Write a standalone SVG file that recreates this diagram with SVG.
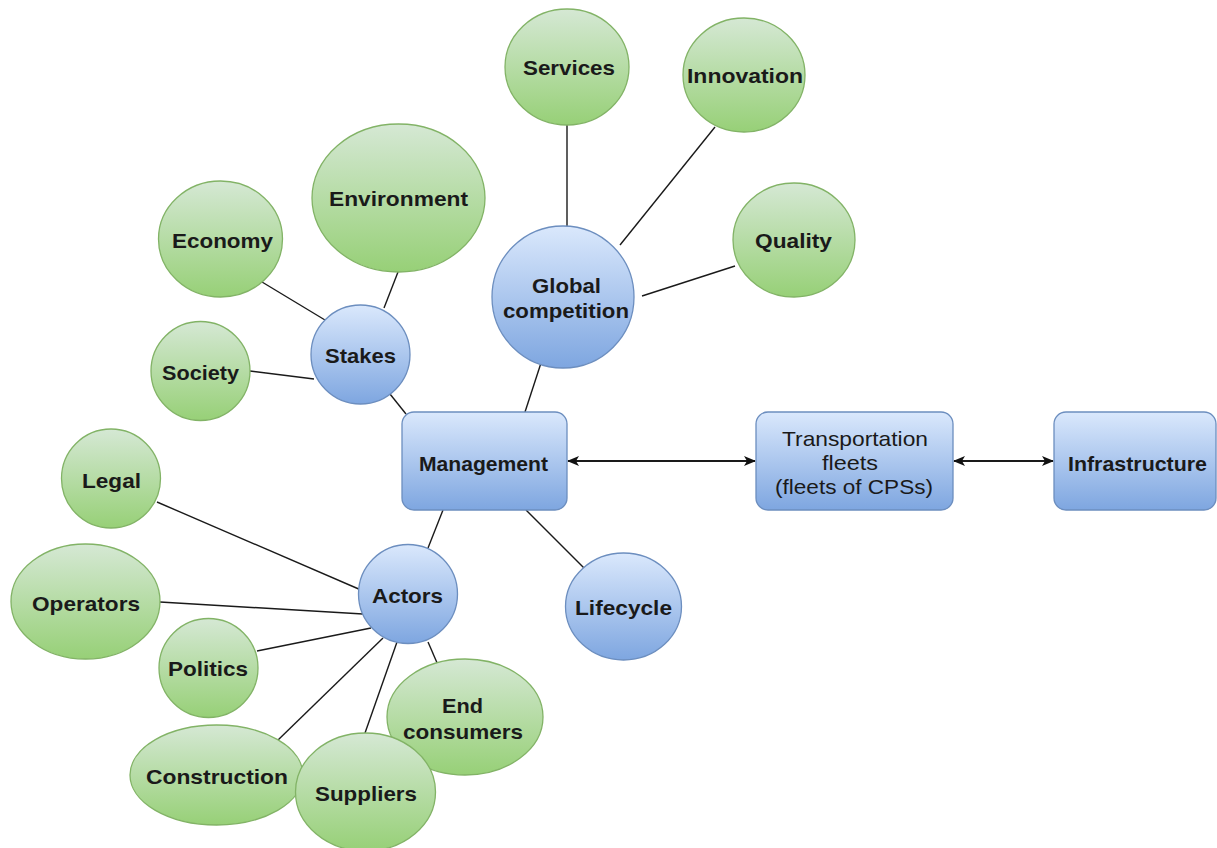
<svg xmlns="http://www.w3.org/2000/svg" width="1217" height="848" viewBox="0 0 1217 848">
<defs>
<linearGradient id="gG" x1="0" y1="0" x2="0" y2="1"><stop offset="0" stop-color="#d5e8d4"/><stop offset="1" stop-color="#97d077"/></linearGradient>
<linearGradient id="gB" x1="0" y1="0" x2="0" y2="1"><stop offset="0" stop-color="#dae8fc"/><stop offset="1" stop-color="#7ea6e0"/></linearGradient>
<marker id="arr" viewBox="0 0 12 10" refX="11" refY="5" markerWidth="12" markerHeight="10" markerUnits="userSpaceOnUse" orient="auto-start-reverse"><path d="M0,0 L12,5 L0,10 L3,5 Z" fill="#111"/></marker>
</defs>
<style>
.g{fill:url(#gG);stroke:#82b366;stroke-width:1.3}
.b{fill:url(#gB);stroke:#6c8ebf;stroke-width:1.3}
.t{font-family:"Liberation Sans",Arial,sans-serif;font-size:21px;font-weight:bold;fill:#1a1a1a;text-anchor:middle;dominant-baseline:central}
.r{font-family:"Liberation Sans",Arial,sans-serif;font-size:21px;fill:#1a1a1a;text-anchor:middle;dominant-baseline:central}
.c line{stroke:#1a1a1a;stroke-width:1.4;fill:none}
.c .a{stroke-width:2;marker-start:url(#arr);marker-end:url(#arr)}
</style>
<rect width="1217" height="848" fill="#ffffff"/>
<g class="c" id="connectors">
<line x1="567" y1="124" x2="567" y2="227"/>
<line x1="715" y1="127" x2="620" y2="245"/>
<line x1="735" y1="266" x2="642" y2="296"/>
<line x1="398" y1="272" x2="384" y2="308"/>
<line x1="262" y1="282" x2="325" y2="320"/>
<line x1="250" y1="371" x2="314" y2="379"/>
<line x1="390" y1="394" x2="406" y2="414"/>
<line x1="541" y1="363" x2="525" y2="412"/>
<line x1="443" y1="510" x2="428" y2="548"/>
<line x1="526" y1="510" x2="584" y2="568"/>
<line x1="157" y1="502" x2="361" y2="590"/>
<line x1="160" y1="602" x2="363" y2="614"/>
<line x1="257" y1="651" x2="371" y2="628"/>
<line x1="277" y1="741" x2="383" y2="638"/>
<line x1="365" y1="733" x2="397" y2="642"/>
<line x1="428" y1="642" x2="438" y2="665"/>
<line class="a" x1="568" y1="461" x2="755" y2="461"/>
<line class="a" x1="954" y1="461" x2="1053" y2="461"/>
</g>
<g id="services"><ellipse class="g" cx="567" cy="67" rx="62" ry="58"/><text class="t" x="569" y="67" textLength="92" lengthAdjust="spacingAndGlyphs">Services</text></g>
<g id="innovation"><ellipse class="g" cx="744" cy="75" rx="61" ry="57"/><text class="t" x="745" y="75" textLength="116" lengthAdjust="spacingAndGlyphs">Innovation</text></g>
<g id="environment"><ellipse class="g" cx="398.5" cy="198" rx="86.5" ry="74"/><text class="t" x="398.5" y="198" textLength="139" lengthAdjust="spacingAndGlyphs">Environment</text></g>
<g id="economy"><ellipse class="g" cx="220.5" cy="239" rx="62" ry="58"/><text class="t" x="222.5" y="240" textLength="101" lengthAdjust="spacingAndGlyphs">Economy</text></g>
<g id="quality"><ellipse class="g" cx="794" cy="240" rx="61" ry="57"/><text class="t" x="793.5" y="240" textLength="77" lengthAdjust="spacingAndGlyphs">Quality</text></g>
<g id="global-competition"><circle class="b" cx="563" cy="297" r="71"/><text class="t" x="566.5" y="285" textLength="69" lengthAdjust="spacingAndGlyphs">Global</text><text class="t" x="566" y="310" textLength="126" lengthAdjust="spacingAndGlyphs">competition</text></g>
<g id="stakes"><circle class="b" cx="360.5" cy="354.5" r="49.5"/><text class="t" x="360.5" y="355" textLength="71" lengthAdjust="spacingAndGlyphs">Stakes</text></g>
<g id="society"><circle class="g" cx="200.5" cy="371" r="49.5"/><text class="t" x="200.5" y="372" textLength="77" lengthAdjust="spacingAndGlyphs">Society</text></g>
<g id="management"><rect class="b" x="402" y="412" width="165" height="98" rx="12"/><text class="t" x="483.5" y="463" textLength="129" lengthAdjust="spacingAndGlyphs">Management</text></g>
<g id="transportation-fleets"><rect class="b" x="756" y="412" width="197" height="98" rx="12"/><text class="r" x="855" y="438" textLength="146" lengthAdjust="spacingAndGlyphs">Transportation</text><text class="r" x="850" y="462" textLength="56" lengthAdjust="spacingAndGlyphs">fleets</text><text class="r" x="854" y="486" textLength="158" lengthAdjust="spacingAndGlyphs">(fleets of CPSs)</text></g>
<g id="infrastructure"><rect class="b" x="1054" y="412" width="162" height="98" rx="12"/><text class="t" x="1137.5" y="463" textLength="139" lengthAdjust="spacingAndGlyphs">Infrastructure</text></g>
<g id="legal"><circle class="g" cx="111" cy="478.5" r="49.5"/><text class="t" x="111.5" y="480" textLength="59" lengthAdjust="spacingAndGlyphs">Legal</text></g>
<g id="actors"><circle class="b" cx="408" cy="594" r="49.5"/><text class="t" x="407.5" y="595" textLength="71" lengthAdjust="spacingAndGlyphs">Actors</text></g>
<g id="lifecycle"><ellipse class="b" cx="623.5" cy="606.5" rx="58" ry="53.5"/><text class="t" x="623.5" y="607" textLength="97" lengthAdjust="spacingAndGlyphs">Lifecycle</text></g>
<g id="operators"><ellipse class="g" cx="85.5" cy="601.5" rx="74.5" ry="57.5"/><text class="t" x="86" y="603" textLength="108" lengthAdjust="spacingAndGlyphs">Operators</text></g>
<g id="politics"><circle class="g" cx="208.5" cy="668" r="49.5"/><text class="t" x="208" y="668" textLength="80" lengthAdjust="spacingAndGlyphs">Politics</text></g>
<g id="construction"><ellipse class="g" cx="216.5" cy="775" rx="86.5" ry="50"/><text class="t" x="217" y="776" textLength="142" lengthAdjust="spacingAndGlyphs">Construction</text></g>
<g id="end-consumers"><ellipse class="g" cx="465" cy="717" rx="78" ry="58"/><text class="t" x="462.5" y="705" textLength="41" lengthAdjust="spacingAndGlyphs">End</text><text class="t" x="463" y="731" textLength="120" lengthAdjust="spacingAndGlyphs">consumers</text></g>
<g id="suppliers"><ellipse class="g" cx="365.5" cy="792" rx="70" ry="59"/><text class="t" x="366" y="793" textLength="102" lengthAdjust="spacingAndGlyphs">Suppliers</text></g>
</svg>
